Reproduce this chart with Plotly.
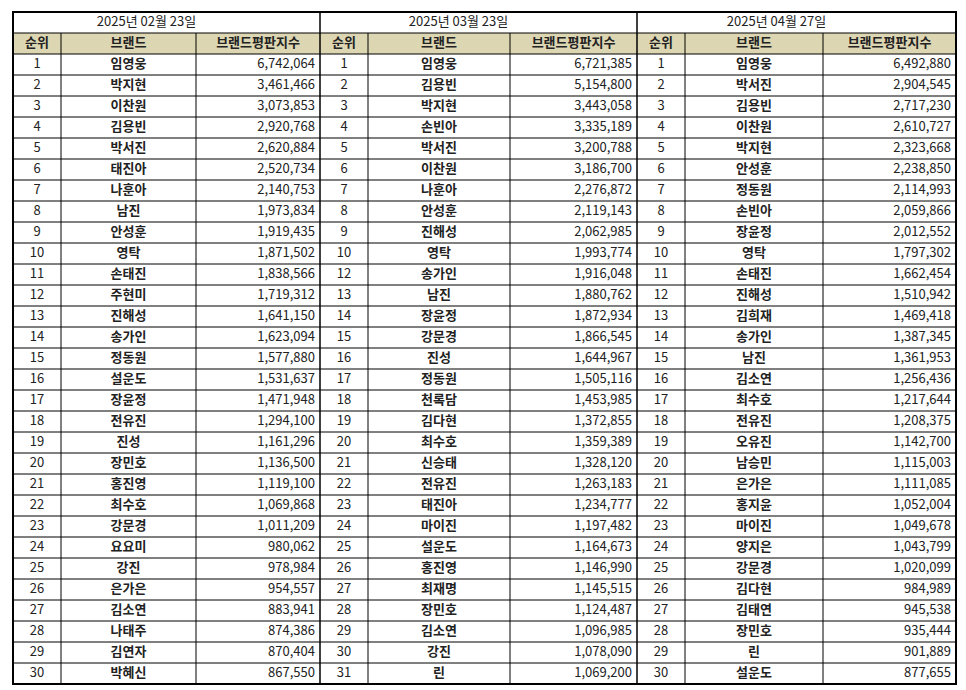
import plotly.graph_objects as go

dates = ["2025년 02월 23일", "2025년 03월 23일", "2025년 04월 27일"]
col_names = ["순위", "브랜드", "브랜드평판지수"]

rank1 = list(range(1, 31))
brand1 = ["임영웅","박지현","이찬원","김용빈","박서진","태진아","나훈아","남진","안성훈","영탁",
          "손태진","주현미","진해성","송가인","정동원","설운도","장윤정","전유진","진성","장민호",
          "홍진영","최수호","강문경","요요미","강진","은가은","김소연","나태주","김연자","박혜신"]
score1 = [6742064,3461466,3073853,2920768,2620884,2520734,2140753,1973834,1919435,1871502,
          1838566,1719312,1641150,1623094,1577880,1531637,1471948,1294100,1161296,1136500,
          1119100,1069868,1011209,980062,978984,954557,883941,874386,870404,867550]

rank2 = [1,2,3,4,5,6,7,8,9,10,12,13,14,15,16,17,18,19,20,21,22,23,24,25,26,27,28,29,30,31]
brand2 = ["임영웅","김용빈","박지현","손빈아","박서진","이찬원","나훈아","안성훈","진해성","영탁",
          "송가인","남진","장윤정","강문경","진성","정동원","천록담","김다현","최수호","신승태",
          "전유진","태진아","마이진","설운도","홍진영","최재명","장민호","김소연","강진","린"]
score2 = [6721385,5154800,3443058,3335189,3200788,3186700,2276872,2119143,2062985,1993774,
          1916048,1880762,1872934,1866545,1644967,1505116,1453985,1372855,1359389,1328120,
          1263183,1234777,1197482,1164673,1146990,1145515,1124487,1096985,1078090,1069200]

rank3 = list(range(1, 31))
brand3 = ["임영웅","박서진","김용빈","이찬원","박지현","안성훈","정동원","손빈아","장윤정","영탁",
          "손태진","진해성","김희재","송가인","남진","김소연","최수호","전유진","오유진","남승민",
          "은가은","홍지윤","마이진","양지은","강문경","김다현","김태연","장민호","린","설운도"]
score3 = [6492880,2904545,2717230,2610727,2323668,2238850,2114993,2059866,2012552,1797302,
          1662454,1510942,1469418,1387345,1361953,1256436,1217644,1208375,1142700,1115003,
          1111085,1052004,1049678,1043799,1020099,984989,945538,935444,901889,877655]

# layout geometry (reference pixel coordinates)
TOP, HEAD_TOP, BOTTOM = 12, 33, 684
ROW_H = (BOTTOM - HEAD_TOP) / 31
blocks = [(13, 61, 196, 320), (320, 368, 510, 637), (637, 685, 823, 956)]
datasets = [(rank1, brand1, score1), (rank2, brand2, score2), (rank3, brand3, score3)]
font = "Noto Sans CJK KR, Noto Sans, sans-serif"
txt = "#222"

fig = go.Figure()
shapes = []
line = dict(color="black", width=1)
for (x0, xa, xb, x1), (r, b, s), d in zip(blocks, datasets, dates):
    ys = [HEAD_TOP + (i + 1.5) * ROW_H for i in range(len(r))]
    hy = HEAD_TOP + 0.5 * ROW_H
    # header fill
    shapes.append(dict(type="rect", x0=x0, x1=x1, y0=HEAD_TOP, y1=HEAD_TOP + ROW_H,
                       fillcolor="#ddd6b2", line=dict(width=0), layer="below"))
    # date row
    fig.add_trace(go.Scatter(x=[(x0 + x1) / 2 - 20], y=[(TOP + HEAD_TOP) / 2], mode="text", text=[d],
                             textfont=dict(family=font, size=13, color=txt), hoverinfo="skip"))
    # header
    fig.add_trace(go.Scatter(x=[(x0 + xa) / 2, (xa + xb) / 2, (xb + x1) / 2], y=[hy] * 3, mode="text",
                             text=[f"<b>{c}</b>" for c in col_names],
                             textfont=dict(family=font, size=13, color=txt), hoverinfo="skip"))
    fig.add_trace(go.Scatter(x=[(x0 + xa) / 2] * len(r), y=ys, mode="text", text=[str(v) for v in r],
                             textfont=dict(family=font, size=13, color=txt), hoverinfo="skip"))
    fig.add_trace(go.Scatter(x=[(xa + xb) / 2] * len(b), y=ys, mode="text", text=[f"<b>{n}</b>" for n in b],
                             textfont=dict(family=font, size=13, color=txt), hoverinfo="skip"))
    fig.add_trace(go.Scatter(x=[x1 - 5] * len(s), y=ys, mode="text", text=[f"{v:,}" for v in s],
                             textposition="middle left",
                             textfont=dict(family=font, size=13, color=txt), hoverinfo="skip"))
    # grid
    for xv in (xa, xb):
        shapes.append(dict(type="line", x0=xv, x1=xv, y0=HEAD_TOP, y1=BOTTOM, line=line))
    shapes.append(dict(type="line", x0=x0, x1=x0, y0=TOP, y1=BOTTOM, line=dict(color="black", width=1.5)))
    for i in range(31):
        yv = HEAD_TOP + i * ROW_H
        shapes.append(dict(type="line", x0=x0, x1=x1, y0=yv, y1=yv, line=line))
shapes.append(dict(type="rect", x0=13, x1=956, y0=TOP, y1=BOTTOM, line=dict(color="black", width=2)))

fig.update_layout(width=958, height=682, margin=dict(l=0, r=0, t=0, b=0),
                  paper_bgcolor="white", plot_bgcolor="white", showlegend=False, shapes=shapes,
                  xaxis=dict(range=[8, 966], visible=False, fixedrange=True),
                  yaxis=dict(range=[690, 8], visible=False, fixedrange=True))
fig.write_html("out.html")
